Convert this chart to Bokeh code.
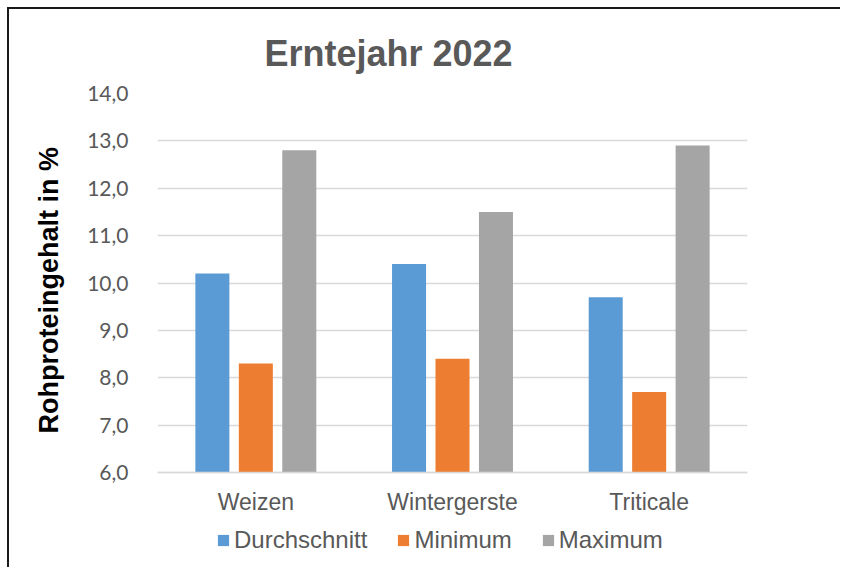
from bokeh.plotting import figure
from bokeh.models import FactorRange, FixedTicker, Legend, LegendItem, ColumnDataSource, Title
from bokeh.transform import dodge
from bokeh.embed import file_html
from bokeh.resources import INLINE

# ---- data ----
categories = ["Weizen", "Wintergerste", "Triticale"]
series_names = ["Durchschnitt", "Minimum", "Maximum"]
durchschnitt = [10.2, 10.4, 9.7]
minimum = [8.3, 8.4, 7.7]
maximum = [12.8, 11.5, 12.9]
y_ticks = [6, 7, 8, 9, 10, 11, 12, 13, 14]
y_tick_labels = ["6,0", "7,0", "8,0", "9,0", "10,0", "11,0", "12,0", "13,0", "14,0"]
title_text = "Erntejahr 2022"
y_label = "Rohproteingehalt in %"

colors = ["#5B9BD5", "#ED7D31", "#A5A5A5"]
offsets = [-0.221, 0.0, 0.221]
bar_w = 0.173

src = ColumnDataSource(dict(cat=categories, Durchschnitt=durchschnitt,
                            Minimum=minimum, Maximum=maximum))

# frame extends below the value axis so the legend can sit inside it
p = figure(x_range=FactorRange(*categories), y_range=(4.06, 14),
           width=833, height=560, output_backend="svg", toolbar_location=None,
           min_border_left=148, min_border_right=95, min_border_top=84, min_border_bottom=5)
p.styles = {"margin-left": "9px", "margin-top": "9px",
            "box-shadow": "-2px -2px 0 0 #1a1a1a"}
p.outline_line_color = None
p.background_fill_color = "white"
p.border_fill_color = "white"

renderers = []
for name, col, off in zip(series_names, colors, offsets):
    r = p.vbar(x=dodge("cat", off, range=p.x_range), top=name, bottom=6, width=bar_w,
               source=src, fill_color=col, line_color=None)
    renderers.append(r)

# title
p.title.text = title_text
p.title.text_font = "Liberation Sans"
p.title.text_font_style = "bold"
p.title.text_font_size = "36px"
p.title.text_color = "#595959"
p.title.align = "left"
p.title.offset = 107
p.title.standoff = 40

# y axis
p.yaxis.ticker = FixedTicker(ticks=y_ticks)
p.yaxis.major_label_overrides = {t: l for t, l in zip(y_ticks, y_tick_labels)}
p.yaxis.axis_line_color = None
p.yaxis.major_tick_line_color = None
p.yaxis.minor_tick_line_color = None
p.yaxis.major_label_text_font = "Lato"
p.yaxis.major_label_text_font_size = "21px"
p.yaxis.major_label_text_color = "#595959"
p.yaxis.major_label_standoff = 23

ylab = Title(text=y_label, align="left", offset=131, standoff=42,
             text_font="Liberation Sans", text_font_style="bold",
             text_font_size="27px", text_color="#000000")
p.add_layout(ylab, "left")

# x axis pinned at the value 6
p.xaxis.fixed_location = 6
p.xaxis.axis_line_color = "#D9D9D9"
p.xaxis.axis_line_width = 1.5
p.xaxis.major_tick_line_color = None
p.xaxis.minor_tick_line_color = None
p.xaxis.major_label_text_font = "Liberation Sans"
p.xaxis.major_label_text_font_size = "23px"
p.xaxis.major_label_text_color = "#595959"
p.xaxis.major_label_standoff = 10

# grid
p.xgrid.grid_line_color = None
p.ygrid.grid_line_color = "#D9D9D9"
p.ygrid.grid_line_width = 1.3

# legend
legend = Legend(items=[LegendItem(label=n, renderers=[r]) for n, r in zip(series_names, renderers)],
                orientation="horizontal", location=(59, 10),
                glyph_width=14, glyph_height=14, label_standoff=4, spacing=29,
                padding=0, margin=0, border_line_color=None, background_fill_alpha=0,
                label_text_font="Liberation Sans", label_text_font_size="24px",
                label_text_color="#595959")
p.add_layout(legend, "center")

open("out.html", "w").write(file_html(p, INLINE))
